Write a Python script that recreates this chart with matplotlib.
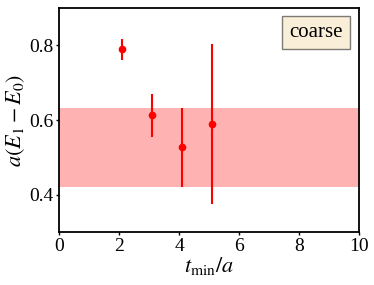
import matplotlib.pyplot as plt

plt.rcParams['font.family'] = 'serif'
plt.rcParams['font.serif'] = ['Liberation Serif', 'DejaVu Serif']
plt.rcParams['mathtext.fontset'] = 'stix'

# fit results vs t_min
tmin = [2.1, 3.1, 4.1, 5.1]
gap = [0.790, 0.613, 0.527, 0.590]
gap_err = [0.028, 0.058, 0.106, 0.214]

# chosen fit band
band_lo = 0.421
band_hi = 0.633

fig, ax = plt.subplots(figsize=(3.74, 2.85), dpi=100)
ax.axhspan(band_lo, band_hi, color="red", alpha=0.3, lw=0)
ax.errorbar(tmin, gap, yerr=gap_err, fmt="o", color="red", ms=4.5, elinewidth=1.5)
ax.set_xlim(0, 10)
ax.set_ylim(0.3, 0.9)
ax.set_yticks([0.4, 0.6, 0.8])
ax.set_xlabel(r"$t_{\rm min}/a$", fontsize=16, labelpad=0)
ax.set_ylabel(r"$a(E_1-E_0)$", fontsize=16, labelpad=2)
ax.tick_params(labelsize=14, length=2, width=1, pad=2)
for s in ax.spines.values():
    s.set_linewidth(1.3)
ax.text(0.945, 0.89, "coarse", transform=ax.transAxes, ha="right", va="center", fontsize=15,
        bbox=dict(boxstyle="square,pad=0.35", facecolor="wheat", alpha=0.5))
plt.subplots_adjust(left=0.158, right=0.96, top=0.972, bottom=0.185)
plt.savefig("out.png")
